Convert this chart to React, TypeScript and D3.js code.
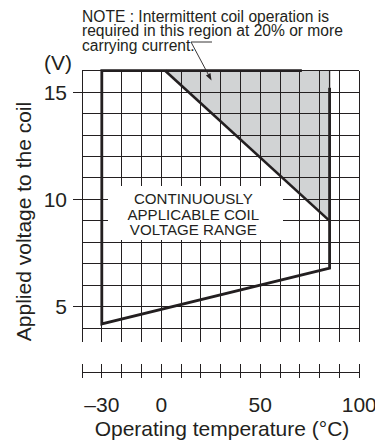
import React from "react";
import * as d3 from "d3";

// Operating temperature (°C) vs applied coil voltage (V)
const tempDomain = [-40, 100];
const voltDomain = [16, 4];
const xTickLabels = [-30, 0, 50, 100];
const yTickLabels = [15, 10, 5];

// Continuous-use boundary (outline of the allowed region)
const rangeTemps = [85, 85, -30, -30, 71];
const rangeVolts = [15.2, 6.8, 4.2, 16, 16];

// Region where intermittent operation is required
const intermittentTemps = [2, 85, 85];
const intermittentVolts = [16, 16, 9];

// Upper limit for continuous operation
const limitTemps = [2, 85];
const limitVolts = [16, 9];

const noteLines = [
  "NOTE : Intermittent coil operation is",
  "required in this region at 20% or more",
  "carrying current.",
];
const rangeLabel = ["CONTINUOUSLY", "APPLICABLE COIL", "VOLTAGE RANGE"];

const W = 375;
const H = 443;
const INK = "#231f20";
const FONT = "'Liberation Sans', Arial, Helvetica, sans-serif";

export default function App() {
  const x = d3.scaleLinear().domain(tempDomain).range([82, 359.3]);
  const y = d3.scaleLinear().domain(voltDomain).range([70.7, 328.2]);

  const gridTemps = x.ticks(14);
  const gridVolts = y.ticks(12);
  const gridBottom = y(3.37);
  const axisY = 372;

  const line = d3
    .line<[number, number]>()
    .x((d) => x(d[0]))
    .y((d) => y(d[1]));

  const zip = (a: number[], b: number[]) =>
    a.map((v, i) => [v, b[i]] as [number, number]);

  const rangePath = line(zip(rangeTemps, rangeVolts)) || "";
  const intermittentPath = (line(zip(intermittentTemps, intermittentVolts)) || "") + "Z";
  const limitPath = line(zip(limitTemps, limitVolts)) || "";

  // leader arrow from the note into the shaded region
  const ax0 = 191;
  const ay0 = 42;
  const ax1 = 211.5;
  const ay1 = 80.5;
  const ang = Math.atan2(ay1 - ay0, ax1 - ax0);
  const ah = 7;
  const aw = 2.6;
  const bx = ax1 - ah * Math.cos(ang);
  const by = ay1 - ah * Math.sin(ang);
  const head = `M${ax1},${ay1}L${bx + aw * Math.sin(ang)},${by - aw * Math.cos(ang)}L${bx - aw * Math.sin(ang)},${by + aw * Math.cos(ang)}Z`;

  return (
    <svg
      width={W}
      height={H}
      viewBox={`0 0 ${W} ${H}`}
      style={{ position: "absolute", left: 0, top: 0, display: "block", background: "#fff" }}
      fontFamily={FONT}
    >
      <rect x={0} y={0} width={W} height={H} fill="#fff" />

      {/* shaded intermittent region */}
      <path d={intermittentPath} fill="#d1d3d4" stroke="none" />

      {/* grid */}
      <g stroke={INK} strokeWidth={1} shapeRendering="crispEdges">
        {gridTemps.map((t) => (
          <line key={"v" + t} x1={x(t)} x2={x(t)} y1={y(16)} y2={gridBottom} />
        ))}
        {gridVolts.map((v) => (
          <line key={"h" + v} x1={x(-40)} x2={x(100)} y1={y(v)} y2={y(v)} />
        ))}
        {yTickLabels.map((v) => (
          <line key={"yt" + v} x1={x(-40) - 9.5} x2={x(-40)} y1={y(v)} y2={y(v)} />
        ))}
      </g>

      {/* broken-axis temperature scale */}
      <g stroke={INK} strokeWidth={1} shapeRendering="crispEdges">
        <line x1={x(-40)} x2={x(100)} y1={axisY} y2={axisY} />
        {gridTemps.map((t) => (
          <line key={"xt" + t} x1={x(t)} x2={x(t)} y1={axisY - 8} y2={axisY + 6} />
        ))}
      </g>

      {/* label backdrop */}
      <rect x={108} y={186} width={175} height={54} fill="#fff" />

      {/* boundary lines */}
      <line x1={x(85)} x2={x(85)} y1={y(16)} y2={y(15.2)} stroke={INK} strokeWidth={1.3} />
      <path d={rangePath} fill="none" stroke={INK} strokeWidth={2.8} strokeLinejoin="miter" />
      <path d={limitPath} fill="none" stroke={INK} strokeWidth={2.6} />

      {/* range label */}
      <g fill={INK} fontSize={15.1} textAnchor="middle">
        {rangeLabel.map((s, i) => (
          <text key={s} x={193.3} y={204 + i * 15.5}>
            {s}
          </text>
        ))}
      </g>

      {/* note */}
      <g fill={INK} fontSize={15.6}>
        {noteLines.map((s, i) => (
          <text key={i} x={82} y={21.5 + i * 14.5}>
            {s}
          </text>
        ))}
      </g>
      <path d={`M212,${ay0}H${ax0}L${bx},${by}`} fill="none" stroke={INK} strokeWidth={0.9} />
      <path d={head} fill={INK} />

      {/* tick labels */}
      <g fill={INK} fontSize={21} textAnchor="end">
        {yTickLabels.map((v) => (
          <text key={v} x={67} y={y(v) + 7.6}>
            {v}
          </text>
        ))}
      </g>
      <text x={58} y={69.5} fontSize={21} fill={INK} textAnchor="middle">
        (V)
      </text>
      <g fill={INK} fontSize={21} textAnchor="middle">
        {xTickLabels.map((t) => (
          <text key={t} x={x(t)} y={411.5}>
            {t < 0 ? "–" + Math.abs(t) : t}
          </text>
        ))}
      </g>

      {/* axis titles */}
      <text x={222} y={436} fontSize={21} fill={INK} textAnchor="middle">
        Operating temperature (°C)
      </text>
      <text
        transform="translate(31,221.5) rotate(-90)"
        fontSize={21}
        fill={INK}
        textAnchor="middle"
      >
        Applied voltage to the coil
      </text>
    </svg>
  );
}
